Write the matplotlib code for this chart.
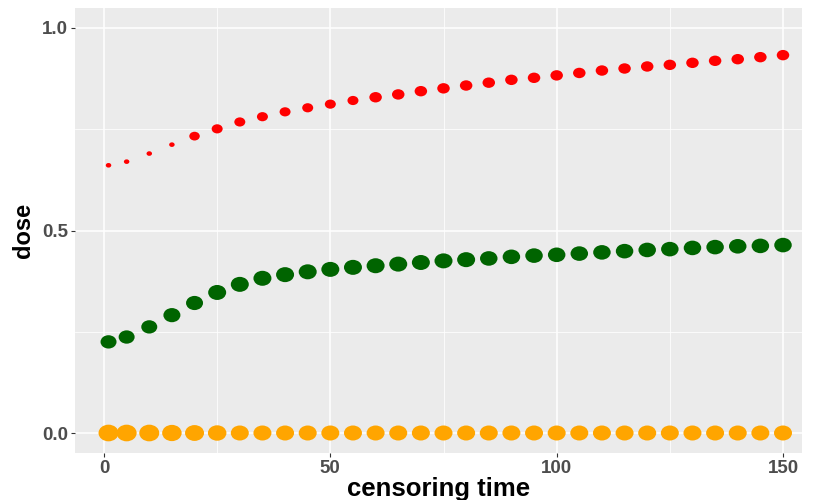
import numpy as np
import matplotlib
matplotlib.use("Agg")
import matplotlib.pyplot as plt
from matplotlib.path import Path
from matplotlib.ticker import MultipleLocator

plt.rcParams['font.family'] = ['Liberation Sans', 'DejaVu Sans']

# censoring times
times = [1] + list(range(5, 151, 5))

dose_red = [0.661, 0.670, 0.690, 0.712, 0.733, 0.751, 0.768, 0.781, 0.793, 0.803,
            0.812, 0.821, 0.829, 0.836, 0.844, 0.851, 0.858, 0.865, 0.872, 0.877,
            0.883, 0.889, 0.895, 0.900, 0.905, 0.909, 0.914, 0.919, 0.923, 0.928,
            0.933]
dose_green = [0.225, 0.237, 0.262, 0.291, 0.321, 0.347, 0.367, 0.382, 0.391, 0.398,
              0.404, 0.409, 0.413, 0.417, 0.421, 0.425, 0.428, 0.431, 0.435, 0.438,
              0.440, 0.443, 0.446, 0.449, 0.452, 0.454, 0.457, 0.459, 0.461, 0.462,
              0.464]
dose_orange = [0.0] * len(times)

# point widths (pixels) for each series
size_red = [5.5, 5.5, 5.5, 5.5, 10.5, 11, 11, 11, 11, 11,
            11, 11, 12.5, 12.5, 12.5, 12.5, 12.5, 12.5, 12.5, 12.5,
            12.5, 12.5, 12.5, 12.5, 12.5, 12.5, 12.5, 12.5, 12.5, 12.5,
            12.5]
size_green = [16, 16, 16, 17, 17, 18, 18, 18, 18, 18,
              18, 18, 18, 18, 18, 18, 18, 17.5, 17.5, 17.5,
              17.5, 17.5, 17.5, 17.5, 17.5, 17.5, 17.5, 17.5, 17.5, 17.5,
              17.5]
size_orange = [20, 20, 20, 19.5, 19, 18.5, 18, 18, 18, 18,
               18, 18, 18, 18, 18, 18, 18, 18, 18, 18,
               18, 18, 18, 18, 18, 18, 18, 18, 18, 18,
               18]

DPI = 100
W, H = 813, 500
fig = plt.figure(figsize=(W / DPI, H / DPI), dpi=DPI)

# panel: x=0 at 104px, 4.527 px per unit; y from -0.05 to 1.05
px_per_x = 679.0 / 150
x_lo, x_hi = -6.45, 154.3
left_px = 104 + x_lo * px_per_x
right_px = 104 + x_hi * px_per_x
ax = fig.add_axes([left_px / W, (H - 453.25) / H,
                   (right_px - left_px) / W, 445.5 / H])

# slightly wide ellipse used as the point marker
circ = Path.unit_circle()
ellipse = Path(circ.vertices * np.array([1.2, 1.0]), circ.codes)


def px_to_s(w):
    return (np.asarray(w) * 72.0 / DPI) ** 2


ax.scatter(times, dose_red, s=px_to_s(size_red), marker=ellipse,
           color='#FF0000', linewidths=0, zorder=3)
ax.scatter(times, dose_green, s=px_to_s(size_green), marker=ellipse,
           color='#006400', linewidths=0, zorder=3)
ax.scatter(times, dose_orange, s=px_to_s(size_orange), marker=ellipse,
           color='#FFA500', linewidths=0, zorder=3)

ax.set_xlim(x_lo, x_hi)
ax.set_ylim(-0.05, 1.05)

ax.set_facecolor('#EBEBEB')
for sp in ax.spines.values():
    sp.set_visible(False)

ax.xaxis.set_minor_locator(MultipleLocator(25))
ax.yaxis.set_minor_locator(MultipleLocator(0.25))
ax.set_yticks([0.0, 0.5, 1.0])
ax.set_yticklabels(['0.0', '0.5', '1.0'])
ax.set_xticks([0, 50, 100, 150])
ax.set_xticklabels(['0', '50', '100', '150'])

ax.grid(which='major', color='white', linewidth=1.1)
ax.grid(which='minor', color='white', linewidth=0.55)
ax.set_axisbelow(True)

ax.tick_params(which='major', length=3, width=0.8, color='#333333',
               labelcolor='#4D4D4D', labelsize=13.5, pad=2)
ax.tick_params(which='minor', length=0)
for lab in ax.get_xticklabels() + ax.get_yticklabels():
    lab.set_fontweight('bold')

ax.set_xlabel('censoring time', fontsize=18.5, fontweight='bold', labelpad=0)
ax.set_ylabel('dose', fontsize=17, fontweight='bold', labelpad=5)

fig.savefig('out.png', dpi=DPI)
